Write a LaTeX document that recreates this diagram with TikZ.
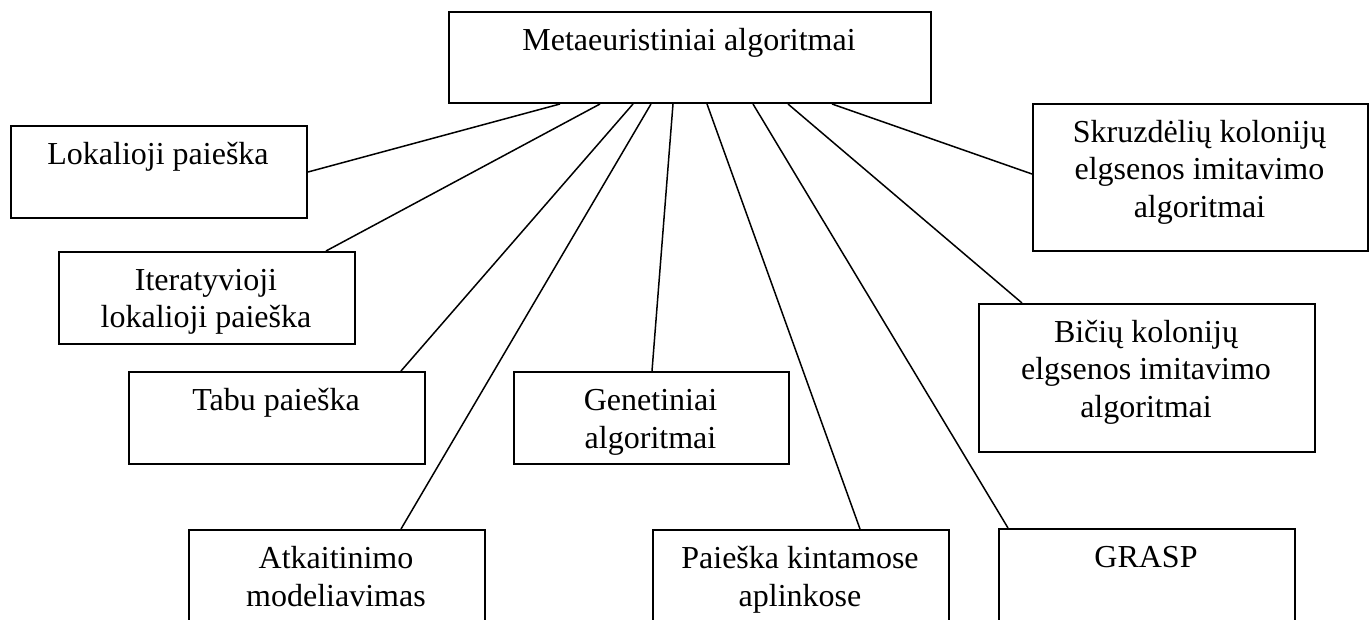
\documentclass[tikz,border=0pt]{standalone}
\usepackage{fontspec}
\setmainfont{Liberation Serif}
\newcommand\tl[1]{\begin{tabular}[t]{@{}c@{}}#1\end{tabular}}
\tikzset{
  box/.style={draw, line width=2pt, rectangle, inner sep=0pt, fill=white},
  lbl/.style={inner sep=0pt, font=\fontsize{32}{37.5}\selectfont},
  conn/.style={line width=1.5pt}
}
\newcommand\mybox[6]{%
  \node[box, anchor=north west, minimum width={(#4)-(#2)}, minimum height={(#5)-(#3)}] (#1) at (#2,#3) {};
  \node[lbl, anchor=base] (#1-t) at ({((#2)+(#4))/2},{(#3)+39.5}) {\tl{#6}};
}
\begin{document}
\begin{tikzpicture}[x=1pt,y=-1pt]
\useasboundingbox (0,0) rectangle (1369,620);
\mybox{top}{448}{11}{930}{102}{Metaeuristiniai algoritmai}
\mybox{lok}{10}{125}{306}{217}{Lokalioji paieška}
\mybox{iter}{58}{251}{354}{343}{Iteratyvioji\\lokalioji paieška}
\mybox{tabu}{128}{371}{424}{463}{Tabu paieška}
\mybox{gen}{513}{371}{788}{463}{Genetiniai\\algoritmai}
\mybox{atk}{188}{529}{484}{629}{Atkaitinimo\\modeliavimas}
\mybox{pk}{652}{529}{948}{629}{Paieška kintamose\\aplinkose}
\mybox{grasp}{998}{528}{1294}{628}{GRASP}
\mybox{bic}{978}{303}{1314}{451}{Bičių kolonijų\\elgsenos imitavimo\\algoritmai}
\mybox{skr}{1032}{103}{1367}{250}{Skruzdėlių kolonijų\\elgsenos imitavimo\\algoritmai}
\draw[conn] ([xshift=112pt]top.south west) -- (lok.east);
\draw[conn] ([xshift=152pt]top.south west) -- ([xshift=268pt]iter.north west);
\draw[conn] ([xshift=185pt]top.south west) -- ([xshift=273pt]tabu.north west);
\draw[conn] ([xshift=203pt]top.south west) -- ([xshift=213pt]atk.north west);
\draw[conn] ([xshift=225pt]top.south west) -- ([xshift=139pt]gen.north west);
\draw[conn] ([xshift=259pt]top.south west) -- ([xshift=208pt]pk.north west);
\draw[conn] ([xshift=305pt]top.south west) -- ([xshift=10pt]grasp.north west);
\draw[conn] ([xshift=340pt]top.south west) -- ([xshift=44pt]bic.north west);
\draw[conn] ([xshift=384pt]top.south west) -- ([yshift=3.5pt]skr.west);
\end{tikzpicture}
\end{document}
